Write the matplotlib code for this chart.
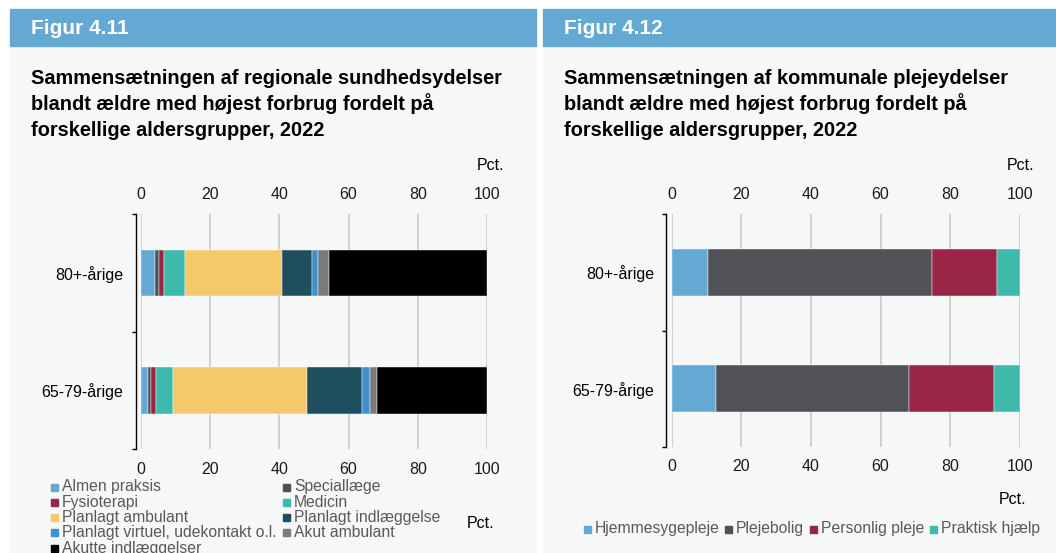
import matplotlib
matplotlib.use("Agg")
import matplotlib.pyplot as plt
from matplotlib.patches import Rectangle
import numpy as np

plt.rcParams['font.family'] = ['Liberation Sans', 'DejaVu Sans']

# ---- data ----
groups = ["80+-årige", "65-79-årige"]

reg_series = ["Almen praksis", "Speciallæge", "Fysioterapi", "Medicin",
              "Planlagt ambulant", "Planlagt indlæggelse",
              "Planlagt virtuel, udekontakt o.l.", "Akut ambulant",
              "Akutte indlæggelser"]
reg_80 = [4.0, 1.1, 1.6, 5.9, 28.1, 8.7, 1.9, 3.0, 45.7]
reg_65 = [1.9, 0.9, 1.5, 4.9, 38.9, 15.8, 2.3, 2.0, 31.8]
reg_colors = ["#63a9d4", "#4f5156", "#9b2546", "#3fb9ac", "#f3c96b",
              "#1f4e5f", "#3f90cc", "#7b7b7b", "#000000"]

kom_series = ["Hjemmesygepleje", "Plejebolig", "Personlig pleje", "Praktisk hjælp"]
kom_80 = [10.5, 64.2, 18.9, 6.4]
kom_65 = [12.7, 55.4, 24.5, 7.4]
kom_colors = ["#63a9d4", "#515257", "#9b2546", "#3fb9ac"]

xticks = [0, 20, 40, 60, 80, 100]

W, H = 1056, 553
HEAD = "#63a9d4"
BG = "#f6f8f7"

fig = plt.figure(figsize=(W / 100, H / 100), dpi=100)
fig.patch.set_facecolor("white")


def fx(x):
    return x / W


def fy(y):
    return 1 - y / H


def panel(x0, x1, fig_label, title_lines):
    fig.patches.append(Rectangle((fx(x0), 0), fx(x1 - x0), 1 - 46 / H,
                                 transform=fig.transFigure, color=BG, zorder=-2))
    fig.patches.append(Rectangle((fx(x0), fy(46)), fx(x1 - x0), 37 / H,
                                 transform=fig.transFigure, color=HEAD, zorder=-2))
    fig.text(fx(x0 + 21), fy(28), fig_label, color="white", fontsize=15,
             fontweight="bold", va="center", ha="left")
    for i, line in enumerate(title_lines):
        fig.text(fx(x0 + 21), fy(84 + 26 * i), line, color="black", fontsize=14.3,
                 fontweight="bold", va="baseline", ha="left")


def bar_axes(left, right, top, bottom, values, colors):
    ax = fig.add_axes([fx(left), fy(bottom), fx(right - left), (bottom - top) / H])
    ax.set_zorder(1)
    ax.set_facecolor("none")
    data = np.array(values)
    ypos = np.arange(len(groups))
    start = np.zeros(len(groups))
    for j in range(data.shape[1]):
        ax.barh(ypos, data[:, j], left=start, height=0.4, color=colors[j],
                edgecolor="white", linewidth=0.3, zorder=3)
        start += data[:, j]
    ax.set_xlim(0, 100)
    ax.set_ylim(1.5, -0.5)
    ax.set_xticks(xticks)
    ax.set_xticklabels([str(t) for t in xticks])
    ax.tick_params(axis="x", top=True, labeltop=True, bottom=True, labelbottom=True,
                   length=0, pad=9, labelsize=11.5, labelcolor="#1a1a1a")
    ax.set_yticks(ypos)
    ax.set_yticklabels(groups)
    ax.tick_params(axis="y", which="major", length=0, pad=9, labelsize=11.5)
    ax.set_yticks([-0.5, 0.5, 1.5], minor=True)
    ax.tick_params(axis="y", which="minor", length=3.2, width=1, direction="out")
    ax.grid(axis="x", color="#c4c4c4", linewidth=1.1, zorder=0)
    for s in ["top", "right", "bottom"]:
        ax.spines[s].set_visible(False)
    ax.spines["left"].set_position(("outward", 3.8))
    ax.spines["left"].set_linewidth(1)
    return ax


# ---- left panel ----
panel(10, 536, "Figur 4.11",
      ["Sammensætningen af regionale sundhedsydelser",
       "blandt ældre med højest forbrug fordelt på",
       "forskellige aldersgrupper, 2022"])
bar_axes(141, 487, 214.3, 449, [reg_80, reg_65], reg_colors)
fig.text(fx(491), fy(166), "Pct.", fontsize=11.5, ha="center", va="center")
fig.text(fx(481), fy(524), "Pct.", fontsize=11.5, ha="center", va="center")

# legend (two columns, filled column-wise)
for i, (name, col) in enumerate(zip(reg_series, reg_colors)):
    c = i % 2
    r = i // 2
    mx = 54 if c == 0 else 286
    yy = 487 + 15.3 * r
    fig.patches.append(Rectangle((fx(mx - 3.5), fy(yy + 3.5)), 7 / W, 7 / H,
                                 transform=fig.transFigure, color=col, zorder=2))
    fig.text(fx(mx + 8), fy(yy), name, fontsize=11.3, color="#595959",
             ha="left", va="center")

# ---- right panel ----
panel(543, 1056, "Figur 4.12",
      ["Sammensætningen af kommunale plejeydelser",
       "blandt ældre med højest forbrug fordelt på",
       "forskellige aldersgrupper, 2022"])
bar_axes(671.7, 1019.7, 214.4, 446.8, [kom_80, kom_65], kom_colors)
fig.text(fx(1021), fy(166), "Pct.", fontsize=11.5, ha="center", va="center")
fig.text(fx(1013), fy(499), "Pct.", fontsize=11.5, ha="center", va="center")

leg_x = [587, 728, 813, 933]
for name, col, mx in zip(kom_series, kom_colors, leg_x):
    fig.patches.append(Rectangle((fx(mx - 3.5), fy(529 + 3.5)), 7 / W, 7 / H,
                                 transform=fig.transFigure, color=col, zorder=2))
    fig.text(fx(mx + 8), fy(529), name, fontsize=11.3, color="#595959",
             ha="left", va="center")

fig.savefig("out.png", dpi=100)
